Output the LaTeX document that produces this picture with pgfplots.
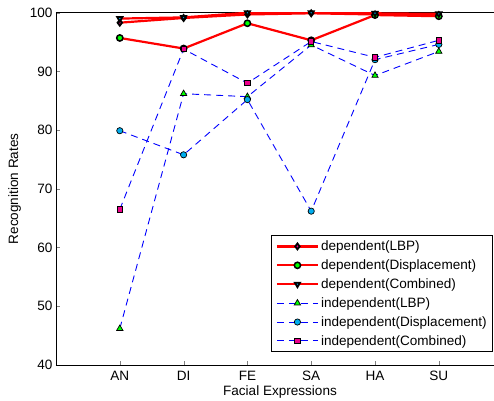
\documentclass[border=0pt]{standalone}
\usepackage{pgfplots}
\pgfplotsset{compat=1.18}
\usepackage{fontspec}
\setmainfont{Liberation Sans}
\begin{document}
\begin{tikzpicture}
\begin{axis}[
  scale only axis,
  width=438bp, height=352.3bp,
  xmin=0, xmax=6.865, ymin=40, ymax=100,
  axis x line=box, axis y line=left,
  axis line style={-, line width=0.8pt, black},
  tick pos=left, tick align=inside,
  major tick length=4bp,
  xtick={1,2,3,4,5,6},
  xticklabels={AN,DI,FE,SA,HA,SU},
  ytick={40,50,60,70,80,90,100},
  /pgf/number format/assume math mode=true,
  ticklabel style={font=\fontsize{13.6}{15}\selectfont},
  xticklabel style={yshift=-3bp},
  label style={font=\fontsize{13.6}{15}\selectfont},
  xlabel={Facial Expressions},
  ylabel={Recognition Rates},
  xlabel style={at={(axis description cs:0.5,0)}, anchor=center, yshift=-27bp, xshift=5bp},
  ylabel style={yshift=2bp},
  legend style={at={(rel axis cs:0.998,0.037)}, anchor=south east,
    font=\fontsize{13.6}{15}\selectfont, draw=black, line width=0.8pt,
    row sep=3.6bp, inner xsep=4bp, inner ysep=3bp},
  legend cell align=left,
  legend image code/.code={
    \draw[#1] (0bp,0bp) -- (41bp,0bp);
    \draw[#1, solid] plot coordinates {(20.5bp,0bp)};
  },
  every axis plot/.append style={mark size=3.3bp},
]
\addplot[red, line width=2.2bp, mark=diamond*, mark options={draw=black, fill=magenta, line width=1.8bp, scale=0.9, solid}]
  coordinates {(1,98.3) (2,99.1) (3,99.7) (4,99.9) (5,99.7) (6,99.6)};
\addlegendentry{dependent(LBP)}
\addplot[red, line width=2.2bp, mark=*, mark options={draw=black, fill=green, line width=1.5bp, scale=0.95, solid}]
  coordinates {(1,95.7) (2,93.9) (3,98.2) (4,95.3) (5,99.6) (6,99.4)};
\addlegendentry{dependent(Displacement)}
\addplot[red, line width=2.2bp, mark=triangle*, mark options={draw=black, fill=cyan, line width=1.8bp, rotate=180, scale=0.9, solid}]
  coordinates {(1,99.0) (2,99.2) (3,100) (4,100) (5,99.9) (6,99.8)};
\addlegendentry{dependent(Combined)}
\addplot[blue, line width=0.9bp, dash pattern=on 7bp off 5bp, mark=triangle*, mark options={draw=black, fill=green, line width=0.7bp, solid, scale=1.1}]
  coordinates {(1,46.2) (2,86.2) (3,85.7) (4,94.5) (5,89.3) (6,93.4)};
\addlegendentry{independent(LBP)}
\addplot[blue, line width=0.9bp, dash pattern=on 7bp off 5bp, mark=*, mark options={draw=black, fill=cyan, line width=0.7bp, solid, scale=0.95}]
  coordinates {(1,79.9) (2,75.8) (3,85.2) (4,66.2) (5,92.0) (6,94.6)};
\addlegendentry{independent(Displacement)}
\addplot[blue, line width=0.9bp, dash pattern=on 7bp off 5bp, mark=square*, mark options={draw=black, fill=magenta, line width=0.7bp, solid, scale=0.8}]
  coordinates {(1,66.5) (2,93.8) (3,88.0) (4,95.1) (5,92.4) (6,95.3)};
\addlegendentry{independent(Combined)}
\end{axis}
\pgfresetboundingbox
\useasboundingbox (-56bp,-36bp) rectangle (438bp,365bp);
\end{tikzpicture}
\end{document}
